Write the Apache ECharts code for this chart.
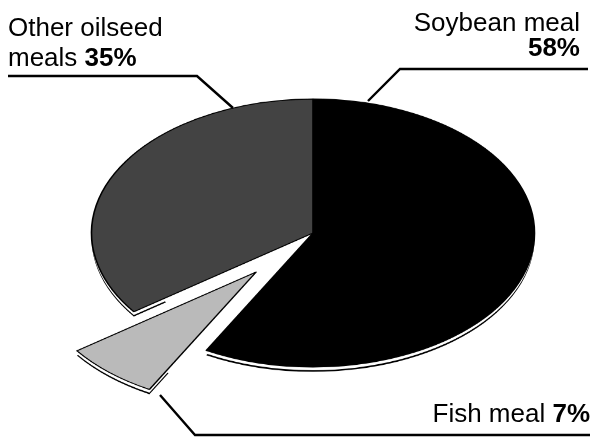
<!DOCTYPE html>
<html>
<head>
<meta charset="utf-8">
<script src="https://cdn.jsdelivr.net/npm/echarts@6/dist/echarts.min.js"></script>
<style>
  html, body { margin:0; padding:0; background:#fff; width:594px; height:439px; overflow:hidden; }
  #pie { position:absolute; left:0; top:0; width:594px; transform-origin:0 0; }
  #ann { position:absolute; left:0; top:0; width:594px; height:439px; }
</style>
</head>
<body>
<div id="pie"></div>
<div id="ann"></div>
<script>
// ---- data ----
const categories = ['Soybean meal', 'Fish meal', 'Other oilseed meals'];
const shares = [58, 7, 35];
const explodedCategory = 'Fish meal';

// ---- layout / style (not data) ----
const W = 594, H = 439;
const CX = 313, CY = 233;      // ellipse centre on screen
const RX = 221.5, RY = 134;    // ellipse radii on screen
const S = RY / RX;             // vertical squash of the pie
const colors = { 'Soybean meal': '#000000', 'Fish meal': '#bababa', 'Other oilseed meals': '#434343' };

const pieEl = document.getElementById('pie');
pieEl.style.height = (H / S) + 'px';
pieEl.style.transform = 'scaleY(' + S + ')';

function pieData(fillFn, borderW) {
  return categories.map((c, i) => ({
    name: c,
    value: shares[i],
    selected: c === explodedCategory,
    itemStyle: { color: fillFn(c), borderColor: '#000', borderWidth: borderW },
    select: { itemStyle: { color: fillFn(c), borderColor: '#000', borderWidth: borderW } }
  }));
}
function pieSeries(dy, radius, fillFn, borderW, z) {
  return {
    type: 'pie',
    z: z,
    center: [CX, (CY + dy) / S],
    radius: radius,
    startAngle: 90,
    clockwise: true,
    selectedMode: 'single',
    selectedOffset: 86,
    avoidLabelOverlap: false,
    label: { show: false },
    labelLine: { show: false },
    emphasis: { disabled: true },
    silent: true,
    animation: false,
    data: pieData(fillFn, borderW)
  };
}

const pie = echarts.init(pieEl, null, { renderer: 'canvas' });
pie.setOption({
  animation: false,
  series: [
    pieSeries(4.8, [RX * 0.82, RX], () => '#000', 0, 1),
    pieSeries(3.2, [RX * 0.82, RX], () => '#fff', 0, 2),
    pieSeries(0, [0, RX], c => colors[c], 1.6, 3)
  ]
});

// ---- annotations ----
const font = '"Liberation Sans", Arial, Helvetica, sans-serif';
const FS = 26;
const pct = c => shares[categories.indexOf(c)] + '%';
function txt(x, y, text, align, rich) {
  return {
    type: 'text', silent: true,
    style: {
      x: x, y: y, text: text, fill: '#000',
      font: FS + 'px ' + font,
      align: align, verticalAlign: 'middle',
      rich: rich || {}
    }
  };
}
const boldRich = { b: { fontSize: FS, fontWeight: 'bold', fontFamily: font, fill: '#000' } };
function leader(points) {
  return { type: 'polyline', silent: true, shape: { points: points }, style: { stroke: '#000', lineWidth: 2.4, fill: null } };
}

const ann = echarts.init(document.getElementById('ann'), null, { renderer: 'svg' });
ann.setOption({
  animation: false,
  graphic: [
    txt(8, 27, 'Other oilseed', 'left'),
    txt(8, 57, 'meals {b|' + pct('Other oilseed meals') + '}', 'left', boldRich),
    leader([[8, 76], [197, 76], [233, 108]]),

    txt(580, 22, 'Soybean meal', 'right'),
    txt(580, 47, '{b|' + pct('Soybean meal') + '}', 'right', boldRich),
    leader([[588, 69], [400, 69], [368, 101]]),

    txt(590, 413, 'Fish meal {b|' + pct('Fish meal') + '}', 'right', boldRich),
    leader([[590, 435], [195, 435], [160, 395]])
  ]
});
</script>
</body>
</html>
